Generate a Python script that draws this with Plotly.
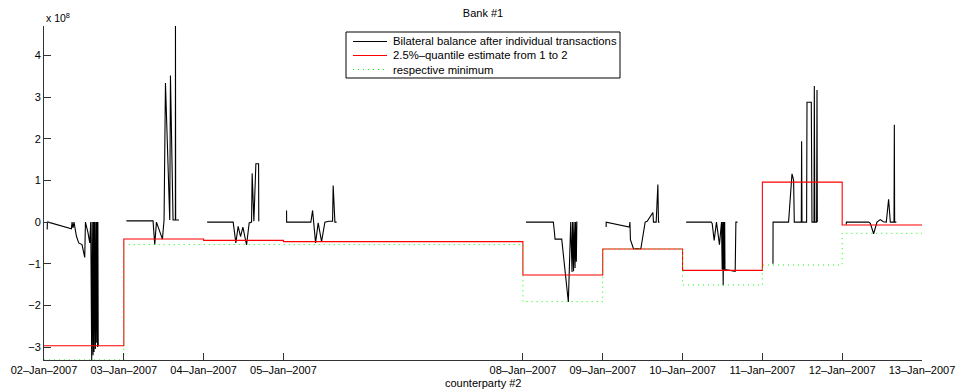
import pandas as pd
import plotly.graph_objects as go

# Trading days and the hour-of-day / balance (x 1e8) samples of each day
days = ["2007-01-02", "2007-01-03", "2007-01-04", "2007-01-05", "2007-01-08",
        "2007-01-09", "2007-01-10", "2007-01-11", "2007-01-12"]

hours_0102 = [0.96, 1.02, 1.26, 8.24, 8.43, 8.73, 9.03, 9.75, 10.44, 11.43, 12.25, 12.46,
              13.24, 13.75, 14.05, 14.35, 14.50, 14.75, 14.90, 15.05, 15.20, 15.45, 15.60,
              15.71, 15.86, 16.10, 16.20, 16.30, 16.37]
bal_0102 = [-0.18, 0, 0, -0.16, 0, -0.14, 0, -0.34, -0.5, -0.54, -0.85, 0,
            -0.26, -0.5, 0, -3.31, 0, -3.2, 0, -3.12, 0, -3.05, 0,
            -2.9, 0, -3.0, 0, -2.98, -2.95]

hours_0103 = [0.78, 8.79, 9.30, 9.81, 11.61, 12.10, 12.52, 13.81, 14.02, 14.80, 15.50, 15.53, 15.59, 16.61]
bal_0103 = [0.03, 0.03, -0.54, 0.0, -0.41, 0.05, 3.34, 0.05, 3.52, 0.05, 0.05, 4.71, 0.05, 0.05]

hours_0104 = [1.05, 8.88, 9.69, 10.38, 11.10, 11.80, 12.91, 13.69, 14.41, 14.59, 15.11, 15.71, 16.52, 16.58]
bal_0104 = [0, 0, -0.5, -0.1, -0.35, -0.12, -0.55, -0.02, 0.0, 1.17, 0.02, 1.4, 1.4, 0.02]

hours_0105 = [0.93, 0.96, 8.24, 8.76, 9.66, 10.44, 11.46, 12.46, 13.66, 14.77, 14.95, 15.47, 15.98]
bal_0105 = [0.28, 0, 0, 0.28, -0.5, -0.02, -0.47, 0, 0.02, 0.02, 0.88, 0.0, 0.0]

hours_0108 = [0.93, 9.15, 9.45, 9.66, 11.67, 13.66, 14.38, 14.77, 14.92, 15.23, 15.38,
              15.68, 15.83, 16.07, 16.22, 16.37]
bal_0108 = [0, 0, -0.22, -0.41, -0.41, -1.92, 0, -1.2, 0, -1.18, 0, -1.1, 0, -0.95, 0, 0]

hours_0109 = [1.02, 1.05, 8.03, 8.18, 8.33, 9.24, 11.46, 12.76, 13.36, 14.17, 15.08, 15.26,
              16.07, 16.58, 16.76, 17.06]
bal_0109 = [-0.12, 0, -0.12, 0, -0.42, -0.64, -0.64, 0, 0.02, 0.12, 0.23, 0, 0, 0.9, 0, 0]

hours_0110 = [1.08, 8.61, 8.91, 9.51, 10.20, 11.10, 11.71, 11.92, 12.07, 12.22, 12.37, 12.52,
              12.67, 12.76, 15.83, 16.04, 16.52]
bal_0110 = [0, 0, -0.03, -0.44, 0, -0.54, 0, -1.14, 0, -1.52, 0, -1.14, 0, -1.14, -1.18, 0, 0]

hours_0111 = [3.19, 3.22, 7.88, 8.91, 9.39, 9.60, 11.71, 11.80, 11.92, 13.30, 13.42, 14.71,
              14.92, 15.53, 15.62, 15.77, 16.31, 16.43, 16.52]
bal_0111 = [-1.0, 0, 0, 1.16, 1.01, 0, 0, 1.94, 0, 0, 2.88, 2.88, 0, 0, 3.27, 0, 0, 3.17, 0]

hours_0112 = [1.23, 1.26, 7.94, 8.46, 9.45, 10.47, 11.46, 12.37, 13.27, 13.96, 14.47, 15.59,
              15.68, 15.77, 16.28]
bal_0112 = [-0.06, 0, 0, -0.03, -0.28, 0, 0.06, 0.01, 0.0, 0.55, 0.0, 0.0, 2.34, 0, 0]

hours_by_day = [hours_0102, hours_0103, hours_0104, hours_0105, hours_0108,
                hours_0109, hours_0110, hours_0111, hours_0112]
bal_by_day = [bal_0102, bal_0103, bal_0104, bal_0105, bal_0108,
              bal_0109, bal_0110, bal_0111, bal_0112]

# Per-period quantile estimate and minimum (x 1e8), period starts in `days`
quantile_est = [-2.97, -0.405, -0.44, -0.47, -1.27, -0.645, -1.16, 0.96, -0.07]
period_min = [-3.31, -0.54, -0.54, -0.54, -1.91, -0.645, -1.51, -1.03, -0.27]
period_end = "2007-01-13"

tick_dates = ["2007-01-02", "2007-01-03", "2007-01-04", "2007-01-05", "2007-01-08",
              "2007-01-09", "2007-01-10", "2007-01-11", "2007-01-12", "2007-01-13"]
tick_text = ["02–Jan–2007", "03–Jan–2007", "04–Jan–2007", "05–Jan–2007", "08–Jan–2007",
             "09–Jan–2007", "10–Jan–2007", "11–Jan–2007", "12–Jan–2007", "13–Jan–2007"]
y_ticks = [-3, -2, -1, 0, 1, 2, 3, 4]

series_names = ["Bilateral balance after individual transactions",
                "2.5%–quantile estimate from 1 to 2",
                "respective minimum"]
series_colors = ["#000000", "#ff0000", "#00ff00"]
series_dashes = ["solid", "solid", "1px,4px"]

# Build the intraday balance path, breaking the line between days
bx, by = [], []
for d, hrs, vals in zip(days, hours_by_day, bal_by_day):
    base = pd.Timestamp(d)
    bx += [base + pd.Timedelta(hours=h) for h in hrs] + [None]
    by += [v * 1e8 for v in vals] + [None]

step_x = [pd.Timestamp(d) for d in days] + [pd.Timestamp(period_end)]
q_y = [v * 1e8 for v in quantile_est + [quantile_est[-1]]]
m_y = [v * 1e8 for v in period_min + [period_min[-1]]]

W, H = 957, 391
M_L, M_R, M_T, M_B = 44, 35, 26, 31
font = dict(family="Liberation Sans, Arial, sans-serif", size=11, color="black")
legend_font = dict(family=font["family"], size=11.3, color="black")

def px_x(px):
    return (px - M_L) / (W - M_L - M_R)

def px_y(py):
    return (H - M_B - py) / (H - M_T - M_B)

fig = go.Figure()
fig.add_trace(go.Scatter(x=bx, y=by, mode="lines", connectgaps=False,
                         line=dict(color=series_colors[0], width=1.1),
                         name=series_names[0]))
fig.add_trace(go.Scatter(x=step_x, y=q_y, mode="lines", line_shape="hv",
                         line=dict(color=series_colors[1], width=1.1),
                         name=series_names[1]))
fig.add_trace(go.Scatter(x=step_x, y=m_y, mode="lines", line_shape="hv",
                         line=dict(color=series_colors[2], width=1, dash=series_dashes[2]),
                         name=series_names[2]))

# Compact boxed legend: frame as a shape, samples on an overlay axis pair in pixels
fig.add_shape(type="rect", xref="paper", yref="paper",
              x0=px_x(346), x1=px_x(620), y0=px_y(78), y1=px_y(32),
              line=dict(color="black", width=1), fillcolor="white", layer="below")
for i in range(len(series_names)):
    row_y = 41.5 + 14 * i
    fig.add_trace(go.Scatter(x=[353, 387], y=[row_y, row_y], mode="lines",
                             xaxis="x2", yaxis="y2", showlegend=False, hoverinfo="skip",
                             line=dict(color=series_colors[i], width=1.2,
                                       dash=series_dashes[i])))
    fig.add_annotation(text=series_names[i], xref="paper", yref="paper",
                       x=px_x(391), y=px_y(row_y), xanchor="left", yanchor="middle",
                       showarrow=False, font=legend_font)

fig.update_layout(
    width=W, height=H,
    margin=dict(l=M_L, r=M_R, t=M_T, b=M_B, autoexpand=False),
    paper_bgcolor="white", plot_bgcolor="white",
    font=font,
    showlegend=False,
    title=dict(text="Bank #1", x=0.5, xref="paper", y=1 - 13 / H, yanchor="middle",
               font=font),
    xaxis=dict(
        type="date", range=["2007-01-02", "2007-01-13"], automargin=False,
        tickvals=tick_dates, ticktext=tick_text,
        ticks="inside", ticklen=7, tickcolor="#333", tickwidth=1,
        showline=True, linecolor="#333", linewidth=1, mirror=False,
        showgrid=False, zeroline=False, tickfont=font,
    ),
    yaxis=dict(
        range=[-3.312e8, 4.71e8], automargin=False,
        tickvals=[v * 1e8 for v in y_ticks],
        ticktext=[str(v).replace("-", "−") for v in y_ticks],
        ticks="inside", ticklen=7, tickcolor="#333", tickwidth=1,
        showline=True, linecolor="#333", linewidth=1, mirror=False,
        showgrid=False, zeroline=False, tickfont=font,
    ),
    xaxis2=dict(overlaying="x", range=[M_L, W - M_R], visible=False, fixedrange=True),
    yaxis2=dict(overlaying="y", range=[H - M_B, M_T], visible=False, fixedrange=True),
)
fig.add_annotation(text="counterparty #2", xref="paper", yref="paper",
                   x=0.5, y=px_y(383), xanchor="center", yanchor="middle",
                   showarrow=False, font=font)
fig.add_annotation(text="x 10<sup>8</sup>", xref="paper", yref="paper",
                   x=px_x(44), y=px_y(17), xanchor="left", yanchor="middle",
                   showarrow=False, font=dict(family=font["family"], size=10.5, color="black"))

fig.write_html("out.html")
